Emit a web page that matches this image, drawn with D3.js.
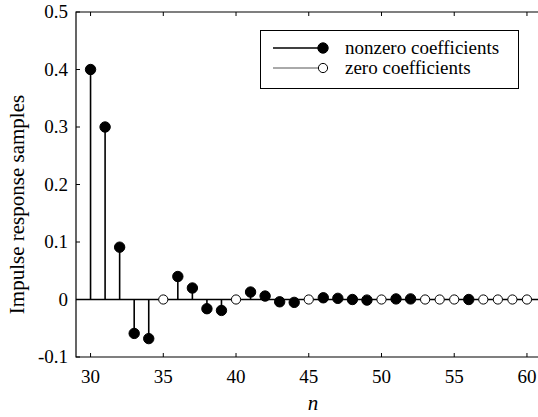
<!DOCTYPE html>
<html>
<head>
<meta charset="utf-8">
<script src="https://cdn.jsdelivr.net/npm/d3@7"></script>
<style>
  body { margin: 0; background: #fff; }
  svg text { font-family: serif, "Liberation Serif", "DejaVu Serif", Tinos; }
</style>
</head>
<body>
<svg width="538" height="417"></svg>
<script>
var width = 538;
var height = 417;

// samples
var nIndex = [30, 31, 32, 33, 34, 35, 36, 37, 38, 39, 40, 41, 42, 43, 44, 45,
              46, 47, 48, 49, 50, 51, 52, 53, 54, 55, 56, 57, 58, 59, 60];
var samples = [0.400, 0.300, 0.091, -0.059, -0.068, 0, 0.040, 0.020, -0.016, -0.019, 0,
               0.013, 0.006, -0.004, -0.005, 0, 0.003, 0.002, 0.000, -0.001, 0,
               0.001, 0.001, 0, 0, 0, 0.000, 0, 0, 0, 0];
var isNonzero = [1, 1, 1, 1, 1, 0, 1, 1, 1, 1, 0, 1, 1, 1, 1, 0,
                 1, 1, 1, 1, 0, 1, 1, 0, 0, 0, 1, 0, 0, 0, 0];
var xTicks = [30, 35, 40, 45, 50, 55, 60];
var yTicks = [-0.1, 0, 0.1, 0.2, 0.3, 0.4, 0.5];
var yTickLabels = ["-0.1", "0", "0.1", "0.2", "0.3", "0.4", "0.5"];
var legendLabels = ["nonzero coefficients", "zero coefficients"];

var plotL = 76, plotR = 541.5, plotT = 12, plotB = 357;

var x = d3.scaleLinear().domain([29, 61]).range([plotL, plotR]);
var y = d3.scaleLinear().domain([-0.1, 0.5]).range([plotB, plotT]);

var svg = d3.select("svg");

var data = nIndex.map(function(n, i){
  return {n: n, v: samples[i], nz: isNonzero[i] === 1};
});

// box
var frame = svg.append("g").attr("class", "frame");
frame.append("path")
  .attr("d", "M" + plotR + "," + plotT + "H" + plotL + "V" + plotB + "H" + plotR)
  .attr("fill", "none").attr("stroke", "#000").attr("stroke-width", 1.2);

// ticks (inward)
frame.selectAll("line.xtb").data(xTicks).enter().append("line")
  .attr("x1", function(d){ return x(d); }).attr("x2", function(d){ return x(d); })
  .attr("y1", plotB).attr("y2", plotB - 4)
  .attr("stroke", "#000").attr("stroke-width", 1);
frame.selectAll("line.xtt").data(xTicks).enter().append("line")
  .attr("x1", function(d){ return x(d); }).attr("x2", function(d){ return x(d); })
  .attr("y1", plotT).attr("y2", plotT + 4)
  .attr("stroke", "#000").attr("stroke-width", 1);
frame.selectAll("line.yt").data(yTicks).enter().append("line")
  .attr("x1", plotL).attr("x2", plotL + 4)
  .attr("y1", function(d){ return y(d); }).attr("y2", function(d){ return y(d); })
  .attr("stroke", "#000").attr("stroke-width", 1);

// tick labels
svg.selectAll("text.xl").data(xTicks).enter().append("text")
  .attr("x", function(d){ return x(d); })
  .attr("y", plotB + 26)
  .attr("text-anchor", "middle")
  .attr("font-size", 19)
  .text(function(d){ return d; });
svg.selectAll("text.yl").data(yTicks).enter().append("text")
  .attr("x", plotL - 8)
  .attr("y", function(d){ return y(d) + 6; })
  .attr("text-anchor", "end")
  .attr("font-size", 19)
  .text(function(d, i){ return yTickLabels[i]; });

// axis titles
svg.append("text")
  .attr("transform", "translate(24," + ((plotT + plotB) / 2 + 20) + ") rotate(-90)")
  .attr("text-anchor", "middle")
  .attr("font-size", 21)
  .text("Impulse response samples");
svg.append("text")
  .attr("x", 313)
  .attr("y", 410)
  .attr("text-anchor", "middle")
  .attr("font-size", 21)
  .attr("font-style", "italic")
  .text("n");

// baseline
svg.append("line")
  .attr("x1", plotL).attr("x2", width)
  .attr("y1", y(0)).attr("y2", y(0))
  .attr("stroke", "#000").attr("stroke-width", 1.5);

// stems
svg.selectAll("line.stem").data(data).enter().append("line")
  .attr("x1", function(d){ return x(d.n); }).attr("x2", function(d){ return x(d.n); })
  .attr("y1", y(0)).attr("y2", function(d){ return y(d.v); })
  .attr("stroke", "#000").attr("stroke-width", 1.6);

// markers
svg.selectAll("circle.mk").data(data).enter().append("circle")
  .attr("cx", function(d){ return x(d.n); })
  .attr("cy", function(d){ return y(d.v); })
  .attr("r", function(d){ return d.nz ? 5.2 : 4.6; })
  .attr("fill", function(d){ return d.nz ? "#000" : "#fff"; })
  .attr("stroke", "#000").attr("stroke-width", 1);

// legend
var lg = svg.append("g").attr("class", "legend");
lg.append("rect")
  .attr("x", 260.5).attr("y", 30.5).attr("width", 258).attr("height", 58)
  .attr("fill", "#fff").attr("stroke", "#000").attr("stroke-width", 1);
var items = lg.selectAll("g.item").data(legendLabels).enter().append("g")
  .attr("transform", function(d, i){ return "translate(0," + (48 + i * 20) + ")"; });
items.append("line")
  .attr("x1", 273).attr("x2", 323).attr("y1", 0).attr("y2", 0)
  .attr("stroke", function(d, i){ return i === 0 ? "#000" : "#555"; })
  .attr("stroke-width", function(d, i){ return i === 0 ? 1.6 : 1; });
items.append("circle")
  .attr("cx", 323).attr("cy", 0)
  .attr("r", function(d, i){ return i === 0 ? 5.2 : 4.6; })
  .attr("fill", function(d, i){ return i === 0 ? "#000" : "#fff"; })
  .attr("stroke", "#000").attr("stroke-width", 1);
items.append("text")
  .attr("x", 345)
  .attr("y", 6)
  .attr("font-size", 19)
  .text(function(d){ return d; });
</script>
</body>
</html>
